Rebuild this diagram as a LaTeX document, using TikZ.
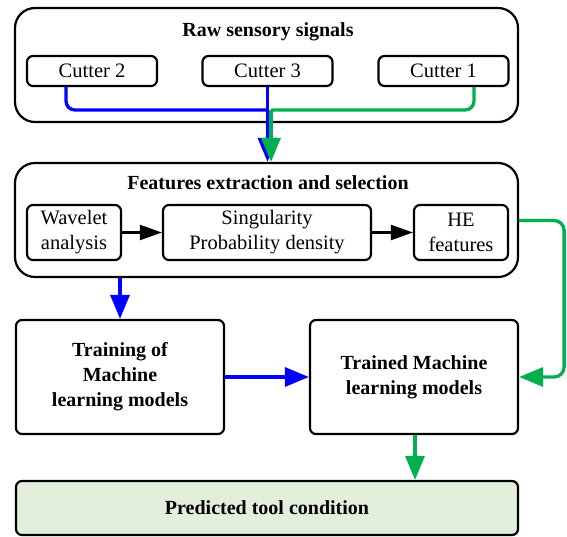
\documentclass[tikz,border=0pt]{standalone}
\usepackage{fontspec}
\setmainfont{Liberation Serif}
\usetikzlibrary{arrows.meta}
\definecolor{lineblue}{RGB}{0,0,255}
\definecolor{linegreen}{RGB}{0,176,80}
\definecolor{predfill}{RGB}{226,239,218}
\tikzset{
	group/.style={draw, line width=2.2pt, rounded corners=20pt, minimum width=503pt, minimum height=114pt, inner sep=0pt},
	box/.style={draw, line width=2.2pt, rounded corners=6pt, align=center, inner sep=0pt},
	heading/.style={font=\fontsize{20}{25}\selectfont\bfseries},
	blueline/.style={draw=lineblue, line width=3.3pt},
	greenline/.style={draw=linegreen, line width=3.3pt},
	bluearr/.style={blueline, -{Triangle[length=24pt,width=19pt]}},
	greenarr/.style={greenline, -{Triangle[length=24pt,width=19pt]}},
	blackarr/.style={line width=2.2pt, -{Triangle[length=22pt,width=15pt]}}
}
\begin{document}
\begin{tikzpicture}[x=1pt, y=-1pt, font=\fontsize{20.5}{25}\selectfont]
	\useasboundingbox (0,0) rectangle (567,536);
	% Nodes
	\node[group] (raw) at (266.5,65) {};
	\node[heading] (rawtitle) at (268,32) {Raw sensory signals};
	\node[box, minimum width=130pt, minimum height=30pt] (cut2) at (92,71) {Cutter 2};
	\node[box, minimum width=130pt, minimum height=30pt] (cut3) at (267.5,71) {Cutter 3};
	\node[box, minimum width=130pt, minimum height=30pt] (cut1) at (443.5,71) {Cutter 1};
	\coordinate (join) at (268,110);

	\node[group] (feat) at (266.5,220) {};
	\node[heading] (feattitle) at (268,183) {Features extraction and selection};
	\node[box, minimum width=94pt, minimum height=55pt] (wav) at (74,232.5) {Wavelet\\analysis};
	\node[box, minimum width=208pt, minimum height=55pt] (sing) at (267,232.5) {Singularity\\Probability density};
	\node[box, minimum width=94pt, minimum height=55pt] (he) at (461,232.5) {HE\\features};

	\node[box, heading, minimum width=208pt, minimum height=114pt] (train) at (120,377) {Training of\\Machine\\learning models};
	\node[box, heading, minimum width=208pt, minimum height=114pt] (trained) at (414,377) {Trained Machine\\learning models};
	\node[box, heading, fill=predfill, minimum width=502pt, minimum height=54pt] (pred) at (267,508) {Predicted tool condition};

	% Edges
	\draw[blueline, rounded corners=9pt] ([xshift=-26pt]cut2.south) |- (join);
	\draw[bluearr] (cut3.south) -- (cut3.south |- feat.north);
	\draw[greenline, rounded corners=9pt] ([xshift=30.5pt]cut1.south) |- ([xshift=3pt]join);
	\draw[greenarr] ([xshift=3pt]join) -- ([xshift=3pt]join |- feat.north);
	\draw[blackarr] (wav) -- (sing);
	\draw[blackarr] (sing) -- (he);
	\draw[greenarr, rounded corners=10pt] ([yshift=12pt]he.east -| feat.east) -- ++(45,0) |- (trained.east);
	\draw[bluearr] (train.north |- feat.south) -- (train.north);
	\draw[bluearr] (train) -- (trained);
	\draw[greenarr] ([xshift=1pt]trained.south) -- ([xshift=1pt]trained.south |- pred.north);
\end{tikzpicture}
\end{document}
